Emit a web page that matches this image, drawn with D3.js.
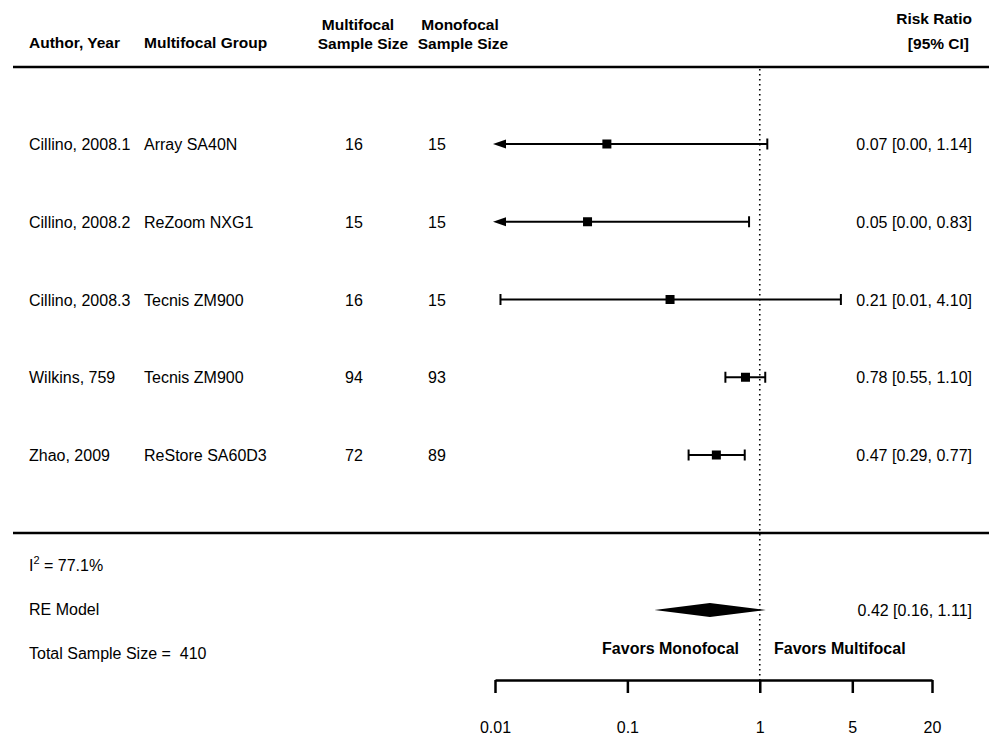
<!DOCTYPE html>
<html><head><meta charset="utf-8">
<script src="https://cdn.jsdelivr.net/npm/d3@7"></script>
<style>body{margin:0;background:#fff}svg{display:block}text{font-family:"Liberation Sans",Arial,Helvetica,sans-serif;fill:#000;white-space:pre}</style>
</head><body><svg id="c" width="989" height="736"></svg>
<script>
const authors = ["Cillino, 2008.1","Cillino, 2008.2","Cillino, 2008.3","Wilkins, 759","Zhao, 2009"];
const groups = ["Array SA40N","ReZoom NXG1","Tecnis ZM900","Tecnis ZM900","ReStore SA60D3"];
const multiN = [16,15,16,94,72];
const monoN = [15,15,15,93,89];
const rr = [0.07,0.05,0.21,0.78,0.47];
const lower = [0.001,0.001,0.011,0.55,0.29];
const upper = [1.14,0.83,4.10,1.10,0.77];
const rrLabels = ["0.07 [0.00, 1.14]","0.05 [0.00, 0.83]","0.21 [0.01, 4.10]","0.78 [0.55, 1.10]","0.47 [0.29, 0.77]"];
const markerSize = [9,9,9,9,9];
const reModel = {est:0.42, lo:0.16, hi:1.11, label:"0.42 [0.16, 1.11]"};
const tickValues = [0.01,0.1,1,5,20];
const tickLabels = ["0.01","0.1","1","5","20"];
const i2Text = "77.1%";
const totalN = 410;

const svg = d3.select("#c");
const x = d3.scaleLog().domain([0.01,20]).range([495,932]);
const rowY = d3.scalePoint().domain(d3.range(authors.length)).range([144,455]);
const fs = 16;
const rightX = 972;

// header
const hb = svg.append("g").style("font-weight","bold").style("font-size","15.5px");
hb.append("text").attr("x",29).attr("y",48).text("Author, Year");
hb.append("text").attr("x",144).attr("y",48).text("Multifocal Group");
hb.append("text").attr("x",358).attr("y",30).attr("text-anchor","middle").text("Multifocal");
hb.append("text").attr("x",363).attr("y",49).attr("text-anchor","middle").text("Sample Size");
hb.append("text").attr("x",460).attr("y",30).attr("text-anchor","middle").text("Monofocal");
hb.append("text").attr("x",463).attr("y",49).attr("text-anchor","middle").text("Sample Size");
hb.append("text").attr("x",rightX).attr("y",24).attr("text-anchor","end").text("Risk Ratio");
hb.append("text").attr("x",rightX-3).attr("y",49).attr("text-anchor","end").text("[95% CI]");

svg.append("line").attr("x1",13).attr("x2",989).attr("y1",67).attr("y2",67).attr("stroke","#000").attr("stroke-width",2.5);
svg.append("line").attr("x1",13).attr("x2",989).attr("y1",533).attr("y2",533).attr("stroke","#000").attr("stroke-width",2.5);

// reference line
svg.append("line").attr("x1",x(1)).attr("x2",x(1)).attr("y1",69).attr("y2",680)
  .attr("stroke","#000").attr("stroke-width",1.6).attr("stroke-dasharray","1.6,3.4");

// rows
const rows = svg.append("g").selectAll("g").data(authors).join("g")
  .attr("transform",(d,i)=>`translate(0,${rowY(i)})`);
rows.append("text").attr("x",29).attr("y",6).style("font-size",fs+"px").text(d=>d);
rows.append("text").attr("x",144).attr("y",6).style("font-size",fs+"px").text((d,i)=>groups[i]);
rows.append("text").attr("x",354).attr("y",6).attr("text-anchor","middle").style("font-size",fs+"px").text((d,i)=>multiN[i]);
rows.append("text").attr("x",437).attr("y",6).attr("text-anchor","middle").style("font-size",fs+"px").text((d,i)=>monoN[i]);
rows.append("text").attr("x",rightX).attr("y",6).attr("text-anchor","end").style("font-size",fs+"px").text((d,i)=>rrLabels[i]);

const xmin = x.domain()[0];
rows.each(function(d,i){
  const g = d3.select(this);
  const lo = Math.max(lower[i], xmin);
  const clipped = lower[i] < xmin;
  const x0 = clipped ? x(xmin)+10 : x(lo);
  g.append("line").attr("x1",x0).attr("x2",x(upper[i])).attr("y1",0).attr("y2",0).attr("stroke","#000").attr("stroke-width",2);
  if(clipped){
    g.append("path").attr("d",`M${x(xmin)-2},0 L${x(xmin)+11},-4.5 L${x(xmin)+11},4.5 Z`).attr("fill","#000");
  } else {
    g.append("line").attr("x1",x(lo)).attr("x2",x(lo)).attr("y1",-5.5).attr("y2",5.5).attr("stroke","#000").attr("stroke-width",2);
  }
  g.append("line").attr("x1",x(upper[i])).attr("x2",x(upper[i])).attr("y1",-5.5).attr("y2",5.5).attr("stroke","#000").attr("stroke-width",2);
  const s = markerSize[i];
  g.append("rect").attr("x",x(rr[i])-s/2).attr("y",-s/2).attr("width",s).attr("height",s).attr("fill","#000");
});

// summary
const ys = 610;
svg.append("path").attr("d",`M${x(reModel.lo)},${ys} L${x(reModel.est)},${ys-7} L${x(reModel.hi)},${ys} L${x(reModel.est)},${ys+7} Z`).attr("fill","#000");
svg.append("text").attr("x",rightX).attr("y",ys+6).attr("text-anchor","end").style("font-size",fs+"px").text(reModel.label);

const it = svg.append("text").attr("x",29).attr("y",571).style("font-size",fs+"px");
it.append("tspan").text("I");
it.append("tspan").attr("dy",-7).style("font-size","11px").text("2");
it.append("tspan").attr("dy",7).text(" = "+i2Text);
svg.append("text").attr("x",29).attr("y",615).style("font-size",fs+"px").text("RE Model");
svg.append("text").attr("x",29).attr("y",659).style("font-size",fs+"px").text("Total Sample Size =  "+totalN);

svg.append("text").attr("x",739).attr("y",654).attr("text-anchor","end").style("font-size","16px").style("font-weight","bold").text("Favors Monofocal");
svg.append("text").attr("x",774).attr("y",654).style("font-size","16px").style("font-weight","bold").text("Favors Multifocal");

// axis
const ax = d3.axisBottom(x).tickValues(tickValues).tickFormat((d,i)=>tickLabels[i]).tickSize(13).tickPadding(29).tickSizeOuter(0);
const axg = svg.append("g").attr("transform","translate(0,680)").call(ax);
axg.select(".domain").attr("stroke-width",2.5);
axg.selectAll(".tick line").attr("stroke-width",2.5);
axg.selectAll(".tick text").style("font-size",fs+"px").style("font-family","'Liberation Sans',Arial,sans-serif").attr("fill","#000");
</script></body></html>
